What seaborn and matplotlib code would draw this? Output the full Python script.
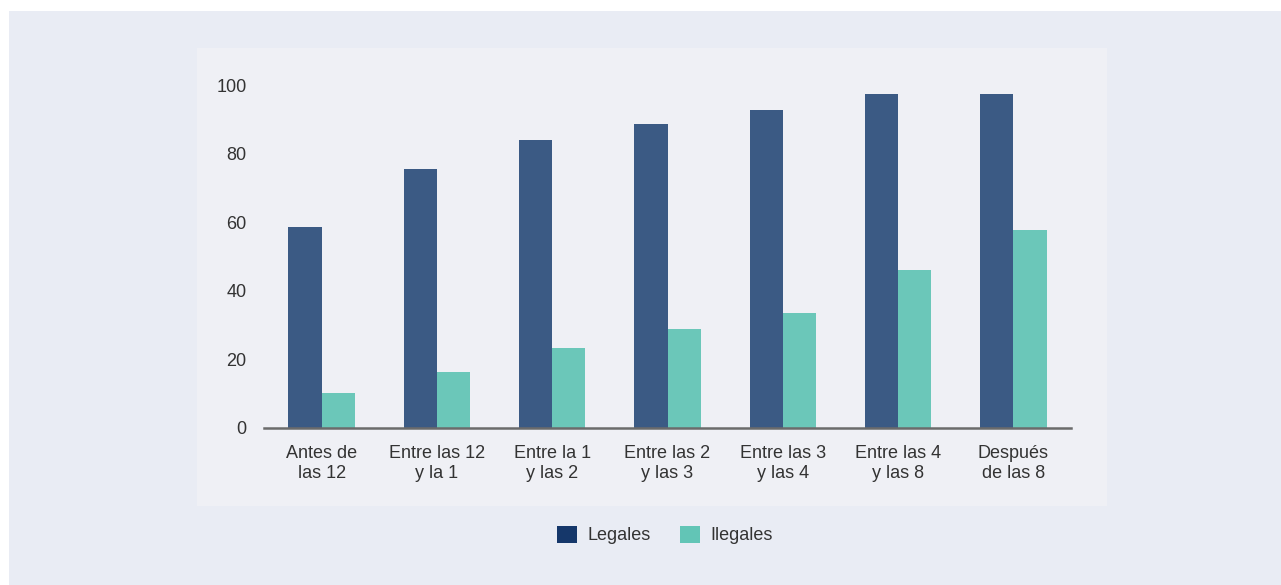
import pandas as pd
import matplotlib.pyplot as plt
import seaborn as sns
from matplotlib.patches import Rectangle, Patch

# Datos
franjas = ['Antes de\nlas 12', 'Entre las 12\ny la 1', 'Entre la 1\ny las 2', 'Entre las 2\ny las 3',
           'Entre las 3\ny las 4', 'Entre las 4\ny las 8', 'Después\nde las 8']
legales = [58.5, 75.5, 84.1, 88.7, 92.7, 97.3, 97.3]
ilegales = [10.1, 16.2, 23.2, 28.8, 33.4, 46.0, 57.6]
series = ['Legales', 'Ilegales']

df = pd.DataFrame({
    'franja': franjas * 2,
    'valor': legales + ilegales,
    'tipo': ['Legales'] * len(franjas) + ['Ilegales'] * len(franjas),
})

sns.set_theme(style='white')
plt.rcParams['font.family'] = ['Liberation Sans', 'DejaVu Sans']

W, H = 1281, 585
fig = plt.figure(figsize=(W / 100, H / 100), dpi=100)
fig.patch.set_facecolor('white')

# fondo exterior y panel interior
fig.patches.append(Rectangle((9 / W, 0), 1 - 9 / W, 1 - 11 / H, transform=fig.transFigure,
                             facecolor='#e9ecf4', edgecolor='none', zorder=-2))
fig.patches.append(Rectangle((197 / W, 1 - 506 / H), (1107 - 197) / W, (506 - 48) / H,
                             transform=fig.transFigure, facecolor='#eff0f5', edgecolor='none', zorder=-1))

ax = fig.add_axes([264 / W, 1 - 428 / H, (1071 - 264) / W, (428 - 85) / H])
ax.patch.set_alpha(0)

colores_barras = {'Legales': '#3b5a84', 'Ilegales': '#6bc7b9'}
sns.barplot(data=df, x='franja', y='valor', hue='tipo', hue_order=series, palette=colores_barras,
            width=0.575, saturation=1, ax=ax, legend=False, edgecolor='none', linewidth=0)

ax.set_xlim(-0.5, len(franjas) - 0.5)
ax.set_ylim(0, 100)
ax.set_yticks([0, 20, 40, 60, 80, 100])
ax.set_xlabel('')
ax.set_ylabel('')
for s in ['top', 'right', 'left']:
    ax.spines[s].set_visible(False)
ax.spines['bottom'].set_color('#6b6b6b')
ax.spines['bottom'].set_linewidth(1.8)
ax.tick_params(axis='both', length=0, labelsize=13, labelcolor='#333333')
ax.tick_params(axis='y', pad=12.5)
ax.tick_params(axis='x', pad=12)
for lbl in ax.get_xticklabels():
    lbl.set_linespacing(1.25)
ax.grid(False)

handles = [Patch(facecolor='#15376a', edgecolor='none', label='Legales'),
           Patch(facecolor='#62c5b6', edgecolor='none', label='Ilegales')]
fig.legend(handles=handles, loc='center', bbox_to_anchor=(665 / W, 1 - 535 / H), ncol=2,
           frameon=False, fontsize=13, handlelength=1.1, handleheight=1.1,
           handletextpad=0.6, columnspacing=1.6, labelcolor='#333333')

fig.savefig('out.png', dpi=100, facecolor=fig.get_facecolor())
